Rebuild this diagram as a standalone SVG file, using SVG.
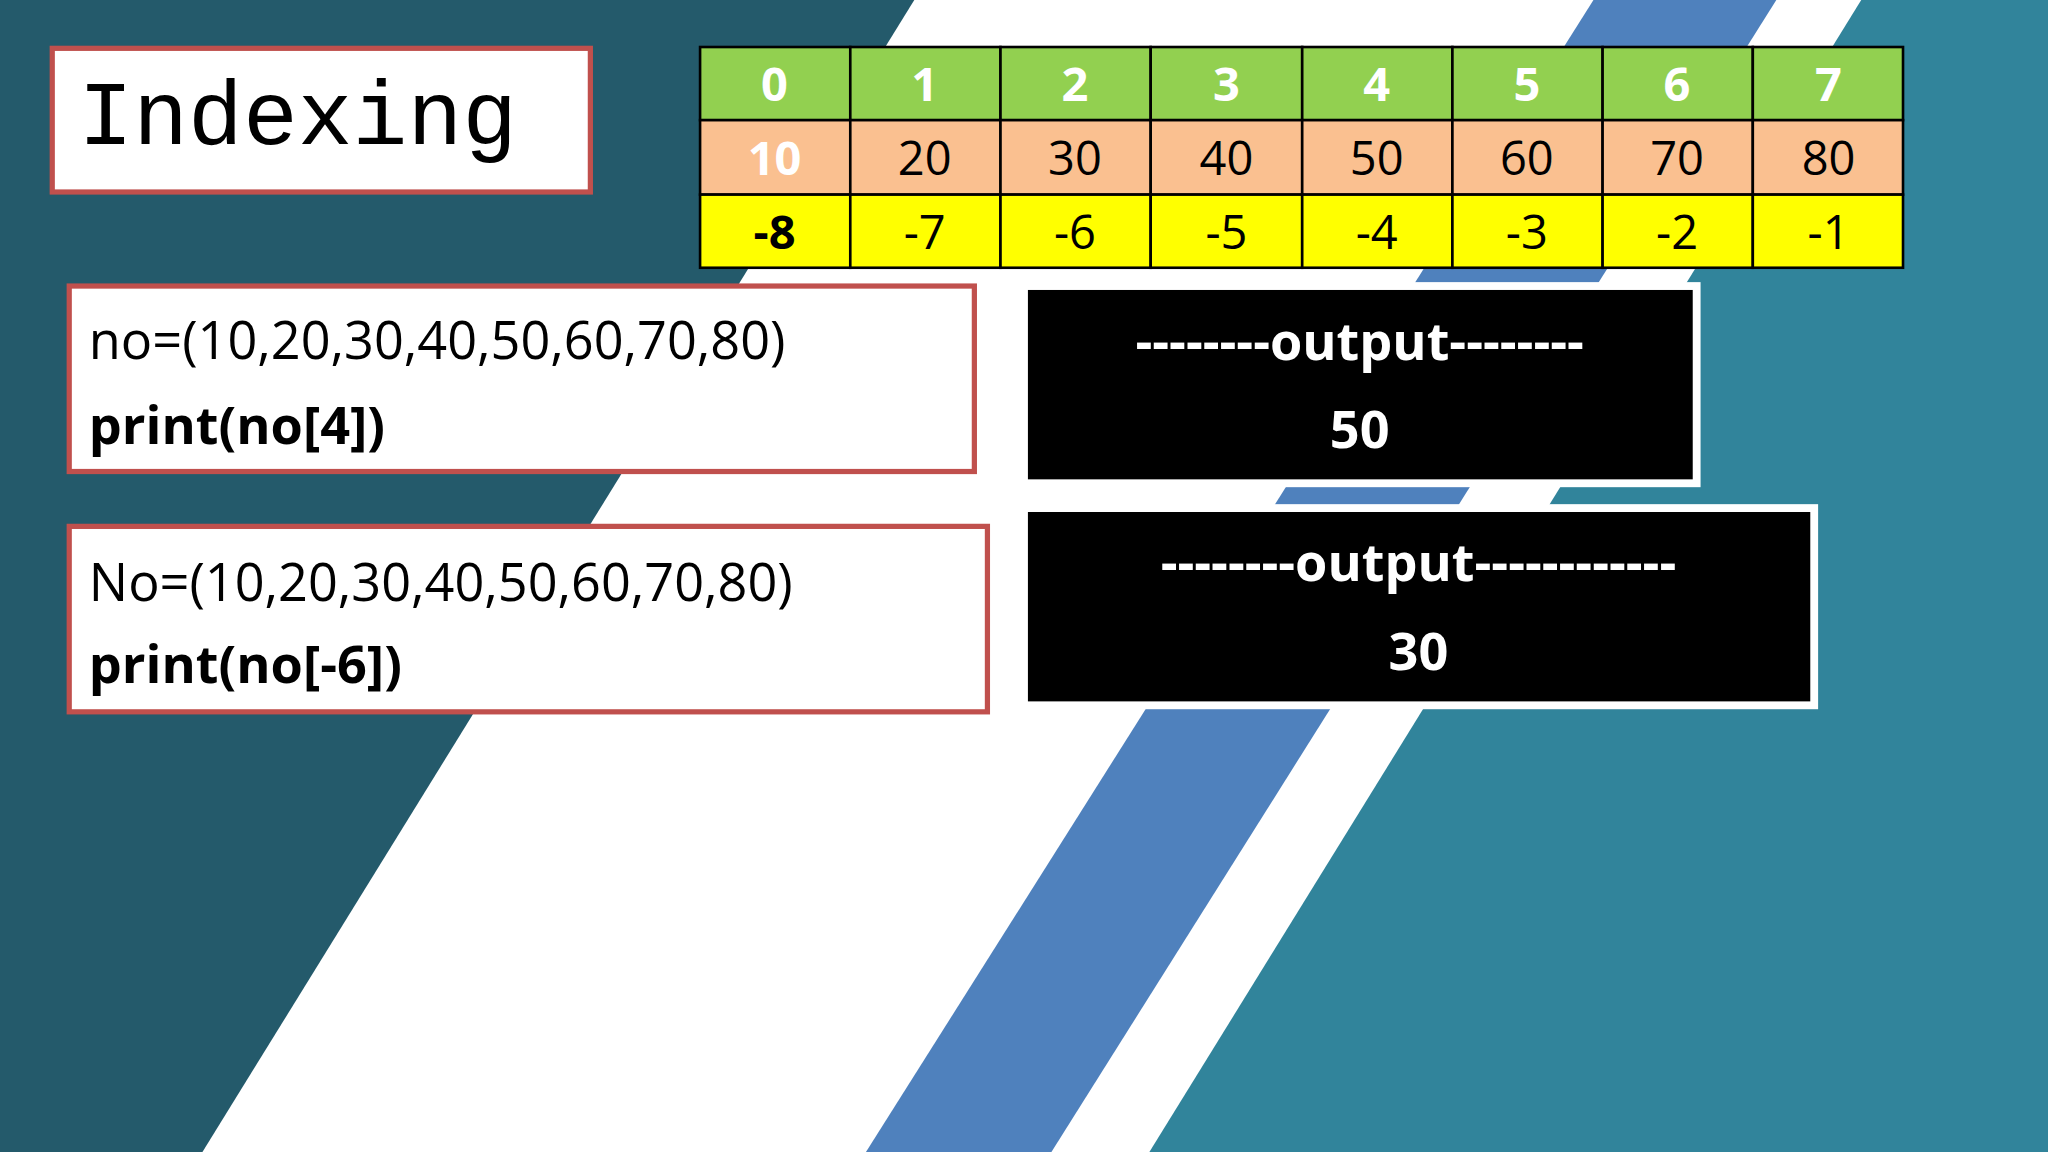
<svg xmlns="http://www.w3.org/2000/svg" width="2048" height="1152" viewBox="0 0 2048 1152">
<style>
.cell{stroke:#000;stroke-width:2}
.t{font-family:"Open Sans","Noto Sans",sans-serif;font-size:36px;text-anchor:middle}
.code{font-family:"Open Sans","Noto Sans",sans-serif;font-size:40px;fill:#000}
.out{font-family:"Open Sans","Noto Sans",sans-serif;font-size:40px;font-weight:bold;fill:#fff;text-anchor:middle}
.redbox{fill:#fff;stroke:#c0504d;stroke-width:4}
.blk{fill:#000;stroke:#fff;stroke-width:6}
</style>
<g transform="scale(1.30612)">
<g id="background">
<rect x="0" y="0" width="1568" height="882" fill="#fff"/>
<polygon points="0,0 700,0 155,882 0,882" fill="#245a6b"/>
<polygon points="1220,0 1360,0 805,882 663,882" fill="#4f81bd"/>
<polygon points="1425,0 1568,0 1568,882 880,882" fill="#31849b"/>
</g>
<g id="title"><rect class="redbox" x="40" y="37" width="412" height="110"/>
<text x="60" y="110" font-family="Liberation Mono,monospace" font-size="70" fill="#000">Indexing</text></g>
<g id="table">
<g fill="#92d050">
<rect class="cell" x="536" y="36" width="115" height="56"/><rect class="cell" x="651" y="36" width="115" height="56"/><rect class="cell" x="766" y="36" width="115" height="56"/><rect class="cell" x="881" y="36" width="116" height="56"/><rect class="cell" x="997" y="36" width="115" height="56"/><rect class="cell" x="1112" y="36" width="115" height="56"/><rect class="cell" x="1227" y="36" width="115" height="56"/><rect class="cell" x="1342" y="36" width="115" height="56"/></g>
<g fill="#fac090">
<rect class="cell" x="536" y="92" width="115" height="57"/><rect class="cell" x="651" y="92" width="115" height="57"/><rect class="cell" x="766" y="92" width="115" height="57"/><rect class="cell" x="881" y="92" width="116" height="57"/><rect class="cell" x="997" y="92" width="115" height="57"/><rect class="cell" x="1112" y="92" width="115" height="57"/><rect class="cell" x="1227" y="92" width="115" height="57"/><rect class="cell" x="1342" y="92" width="115" height="57"/></g>
<g fill="#ffff00">
<rect class="cell" x="536" y="149" width="115" height="56"/><rect class="cell" x="651" y="149" width="115" height="56"/><rect class="cell" x="766" y="149" width="115" height="56"/><rect class="cell" x="881" y="149" width="116" height="56"/><rect class="cell" x="997" y="149" width="115" height="56"/><rect class="cell" x="1112" y="149" width="115" height="56"/><rect class="cell" x="1227" y="149" width="115" height="56"/><rect class="cell" x="1342" y="149" width="115" height="56"/></g>
<g class="t" fill="#fff" font-weight="bold">
<text x="593" y="77">0</text><text x="708" y="77">1</text><text x="823" y="77">2</text><text x="939" y="77">3</text><text x="1054" y="77">4</text><text x="1169" y="77">5</text><text x="1284" y="77">6</text><text x="1400" y="77">7</text>
<text x="593" y="134">10</text></g>
<g class="t" fill="#000">
<text x="708" y="134">20</text><text x="823" y="134">30</text><text x="939" y="134">40</text><text x="1054" y="134">50</text><text x="1169" y="134">60</text><text x="1284" y="134">70</text><text x="1400" y="134">80</text>
<text x="593" y="191" font-weight="bold">-8</text><text x="708" y="191">-7</text><text x="823" y="191">-6</text><text x="939" y="191">-5</text><text x="1054" y="191">-4</text><text x="1169" y="191">-3</text><text x="1284" y="191">-2</text><text x="1400" y="191">-1</text></g>
</g>
<g id="code1"><rect class="redbox" x="53" y="219" width="693" height="142"/>
<text class="code" x="68" y="275">no=(10,20,30,40,50,60,70,80)</text>
<text class="code" x="68" y="340" font-weight="bold">print(no[4])</text></g>
<g id="code2"><rect class="redbox" x="53" y="403" width="703" height="142"/>
<text class="code" x="68" y="460">No=(10,20,30,40,50,60,70,80)</text>
<text class="code" x="68" y="523" font-weight="bold">print(no[-6])</text></g>
<g id="out1"><rect class="blk" x="784" y="219" width="515" height="151"/>
<text class="out" x="1041" y="276">--------output--------</text>
<text class="out" x="1041" y="343">50</text></g>
<g id="out2"><rect class="blk" x="784" y="389" width="605" height="151"/>
<text class="out" x="1086" y="445">--------output------------</text>
<text class="out" x="1086" y="513">30</text></g>
<g id="connectors"/>
</g>
</svg>
